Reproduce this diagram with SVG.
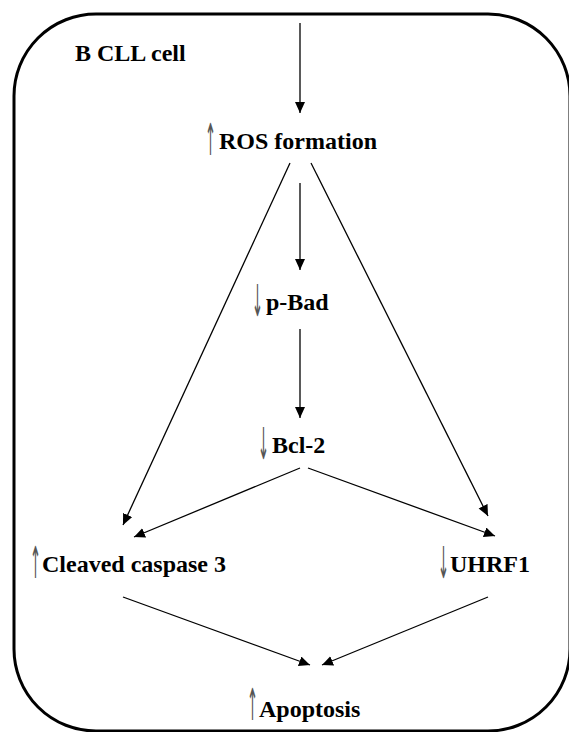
<svg xmlns="http://www.w3.org/2000/svg" width="569" height="732" viewBox="0 0 569 732">
<style>
.lbl{font-family:"Liberation Serif","Times New Roman",serif;font-weight:bold;font-size:24px;fill:#000}
.ar{font-family:"DejaVu Sans",sans-serif;font-weight:normal;font-size:44px;fill:#555}
.c{stroke:#000;stroke-width:1.3;fill:none;marker-end:url(#ah)}
</style>
<defs>
<marker id="ah" markerUnits="userSpaceOnUse" markerWidth="12" markerHeight="11" refX="11" refY="5" orient="auto">
<path d="M0,0 L11,5 L0,10 z" fill="#000"/>
</marker>
</defs>
<rect id="cell" x="14" y="14" width="556" height="717" rx="82" ry="82" fill="#fff" stroke="#000" stroke-width="3"/>
<g id="connectors">
<line class="c" x1="300" y1="23" x2="300" y2="113"/>
<line class="c" x1="300" y1="183" x2="300" y2="270"/>
<line class="c" x1="300" y1="329" x2="300" y2="418"/>
<line class="c" x1="290" y1="163" x2="123" y2="525"/>
<line class="c" x1="311" y1="163" x2="488" y2="516"/>
<line class="c" x1="300" y1="468" x2="134" y2="537"/>
<line class="c" x1="308" y1="468" x2="495" y2="536"/>
<line class="c" x1="123" y1="597" x2="310" y2="665"/>
<line class="c" x1="488" y1="597" x2="322" y2="665"/>
</g>
<g id="cell-label"><text class="lbl" x="75" y="61">B CLL cell</text></g>
<g id="ros"><text class="ar" transform="translate(205,155) scale(0.3,1)">↑</text><text class="lbl" x="219" y="149">ROS formation</text></g>
<g id="pbad"><text class="ar" transform="translate(252,316) scale(0.3,1)">↓</text><text class="lbl" x="266" y="310">p-Bad</text></g>
<g id="bcl2"><text class="ar" transform="translate(258,459) scale(0.3,1)">↓</text><text class="lbl" x="272" y="453">Bcl-2</text></g>
<g id="caspase"><text class="ar" transform="translate(30,578) scale(0.3,1)">↑</text><text class="lbl" x="42" y="572">Cleaved caspase 3</text></g>
<g id="uhrf1"><text class="ar" transform="translate(438,578) scale(0.3,1)">↓</text><text class="lbl" x="450" y="572">UHRF1</text></g>
<g id="apoptosis"><text class="ar" transform="translate(247,720) scale(0.3,1)">↑</text><text class="lbl" x="259" y="717">Apoptosis</text></g>
</svg>
